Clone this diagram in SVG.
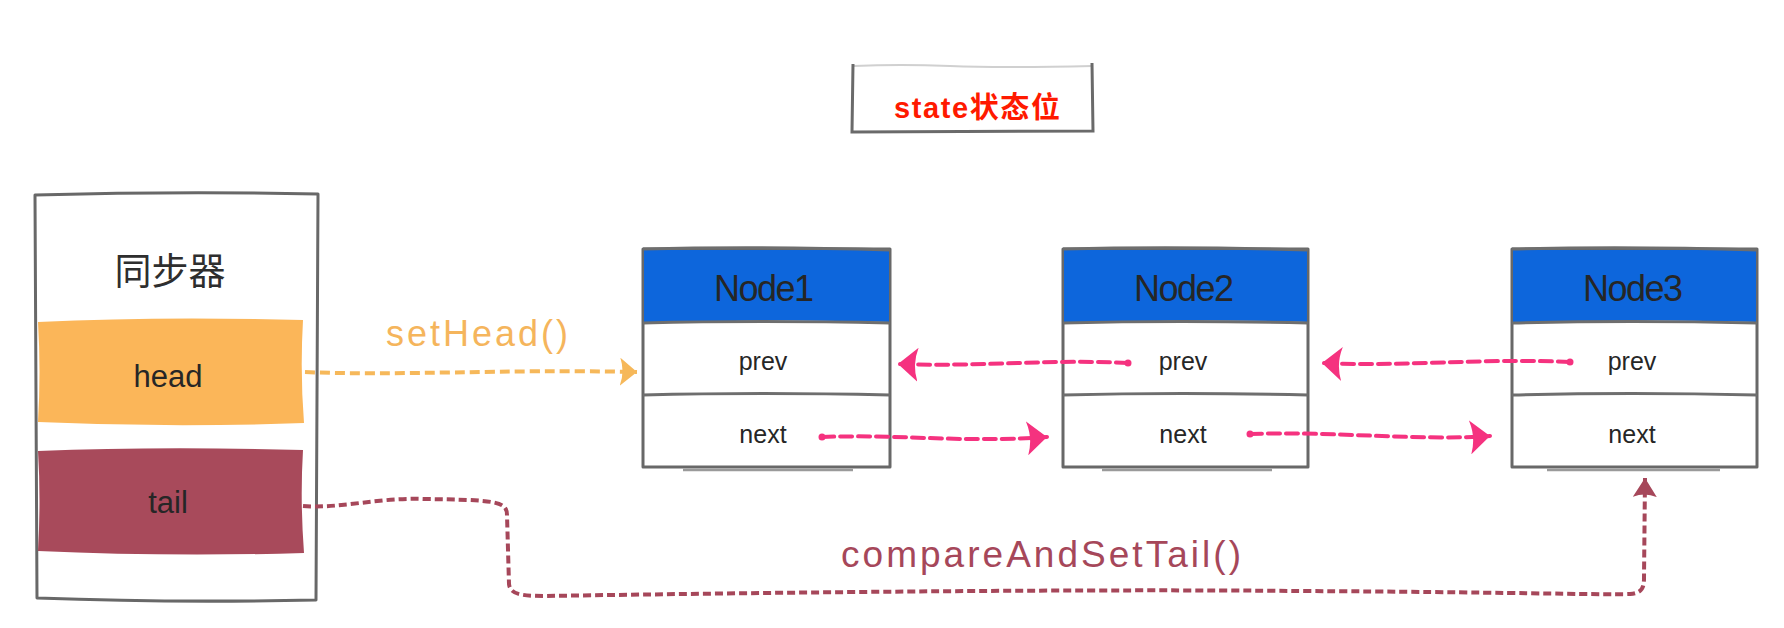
<svg xmlns="http://www.w3.org/2000/svg" width="1784" height="628" viewBox="0 0 1784 628">
<style>
.frame{fill:#fff;stroke:#686868;stroke-width:3;stroke-linejoin:round}
.hdr{fill:#0d66dc}
.sep{fill:none;stroke:#6e6e6e;stroke-width:3}
.hand{font-family:"Liberation Sans","Noto Sans CJK SC",sans-serif;fill:#262626;text-anchor:middle}
.cjk{font-family:"Noto Sans CJK SC",sans-serif;fill:#2e2e2e;text-anchor:middle}
.pink{fill:none;stroke:#f5327f;stroke-width:4;stroke-dasharray:12 6;stroke-linecap:round}
.orange{fill:none;stroke:#f6b85a;stroke-width:4;stroke-dasharray:10 5}
.crimson{fill:none;stroke:#a6475a;stroke-width:4;stroke-dasharray:8 4}
</style>
<defs>
<marker id="ahPink" markerUnits="userSpaceOnUse" markerWidth="22" markerHeight="34" refX="20" refY="17" orient="auto"><path d="M0,0 L20,17 L0,34 Q6,17 0,0 Z" fill="#f5327f"/></marker>
<marker id="ahOrange" markerUnits="userSpaceOnUse" markerWidth="18" markerHeight="28" refX="17" refY="14" orient="auto"><path d="M0,0 L17,14 L0,28 Q5,14 0,0 Z" fill="#f6b85a"/></marker>
<marker id="ahCrimson" markerUnits="userSpaceOnUse" markerWidth="20" markerHeight="24" refX="19" refY="12" orient="auto"><path d="M0,0 L19,12 L0,24 Q5,12 0,0 Z" fill="#a6475a"/></marker>
</defs>
<rect width="1784" height="628" fill="#fff"/>

<g id="state">
<path d="M854,66 Q900,64 950,66 T1092,66" fill="none" stroke="#d0d0d0" stroke-width="2"/>
<path d="M853,64 L852,132 L1093,131 L1092,63" fill="none" stroke="#6a6a6a" stroke-width="3"/>
<text x="977" y="118" font-family="Liberation Sans,Noto Sans CJK SC,sans-serif" font-weight="bold" font-size="29" fill="#ff1a00" text-anchor="middle" textLength="166">state状态位</text>
</g>

<g id="synchronizer">
<path class="frame" d="M35,195 Q180,191 318,194 L316,600 Q170,603 37,598 Z"/>
<text class="cjk" x="170" y="285" font-size="37">同步器</text>
<path d="M38,322 Q160,316 303,320 Q300,372 304,423 Q170,428 38,422 Q41,372 38,322 Z" fill="#fbb659"/>
<text class="hand" x="168" y="387" font-size="31">head</text>
<path d="M38,451 Q160,446 303,450 Q300,500 304,553 Q170,557 38,551 Q41,500 38,451 Z" fill="#a84a5b"/>
<text class="hand" x="168" y="513" font-size="31">tail</text>
</g>

<g id="node1">
<rect class="frame" x="643" y="249" width="247" height="218"/>
<path class="hdr" d="M644,250 L889,250 L889,322 Q760,318 644,324 Z"/>
<path d="M643,249 Q760,246 890,250" class="sep"/>
<path d="M643,323 Q760,320 890,323" class="sep"/>
<path d="M643,395 Q760,392 890,395" class="sep"/>
<path d="M683,470 L853,470" fill="none" stroke="#9a9a9a" stroke-width="2.5"/>
<text class="hand" x="764" y="301" font-size="36" textLength="100">Node1</text>
<text class="hand" x="763" y="370" font-size="25">prev</text>
<text class="hand" x="763" y="443" font-size="25">next</text>
</g>

<g id="node2">
<rect class="frame" x="1063" y="249" width="245" height="218"/>
<path class="hdr" d="M1064,250 L1307,250 L1307,322 Q1180,318 1064,324 Z"/>
<path d="M1063,249 Q1180,246 1308,250" class="sep"/>
<path d="M1063,323 Q1180,320 1308,323" class="sep"/>
<path d="M1063,395 Q1180,392 1308,395" class="sep"/>
<path d="M1102,470 L1272,470" fill="none" stroke="#9a9a9a" stroke-width="2.5"/>
<text class="hand" x="1184" y="301" font-size="36" textLength="100">Node2</text>
<text class="hand" x="1183" y="370" font-size="25">prev</text>
<text class="hand" x="1183" y="443" font-size="25">next</text>
</g>

<g id="node3">
<rect class="frame" x="1512" y="249" width="245" height="218"/>
<path class="hdr" d="M1513,250 L1756,250 L1756,322 Q1630,318 1513,324 Z"/>
<path d="M1512,249 Q1630,246 1757,250" class="sep"/>
<path d="M1512,323 Q1630,320 1757,323" class="sep"/>
<path d="M1512,395 Q1630,392 1757,395" class="sep"/>
<path d="M1547,470 L1720,470" fill="none" stroke="#9a9a9a" stroke-width="2.5"/>
<text class="hand" x="1633" y="301" font-size="36" textLength="100">Node3</text>
<text class="hand" x="1632" y="370" font-size="25">prev</text>
<text class="hand" x="1632" y="443" font-size="25">next</text>
</g>

<g id="connectors">
<path class="orange" d="M305,372 C400,376 500,369 637,372" marker-end="url(#ahOrange)"/>
<text x="477" y="346" font-family="Liberation Sans,sans-serif" font-size="36" fill="#f5b55c" text-anchor="middle" textLength="182">setHead()</text>

<circle cx="1128" cy="363" r="3.5" fill="#f5327f"/>
<path class="pink" d="M1128,363 C1050,359 980,367 898,364" marker-end="url(#ahPink)"/>
<circle cx="1570" cy="362" r="3.5" fill="#f5327f"/>
<path class="pink" d="M1570,362 C1480,358 1400,367 1322,363" marker-end="url(#ahPink)"/>
<circle cx="822" cy="437" r="3.5" fill="#f5327f"/>
<path class="pink" d="M822,437 C900,434 960,443 1047,437" marker-end="url(#ahPink)"/>
<circle cx="1250" cy="434" r="3.5" fill="#f5327f"/>
<path class="pink" d="M1250,434 C1330,431 1420,441 1490,436" marker-end="url(#ahPink)"/>

<path class="crimson" d="M303,506 C340,509 380,497 425,499 C495,500 507,501 507,515 L509,584 C510,594 520,596 545,596 C800,592 1100,589 1300,591 C1500,592 1600,595 1630,594 C1642,593 1644,588 1644,578 L1645,478" marker-end="url(#ahCrimson)"/>
<text x="1041" y="567" font-family="Liberation Sans,sans-serif" font-size="37" fill="#a6475a" text-anchor="middle" textLength="400">compareAndSetTail()</text>
</g>
</svg>
